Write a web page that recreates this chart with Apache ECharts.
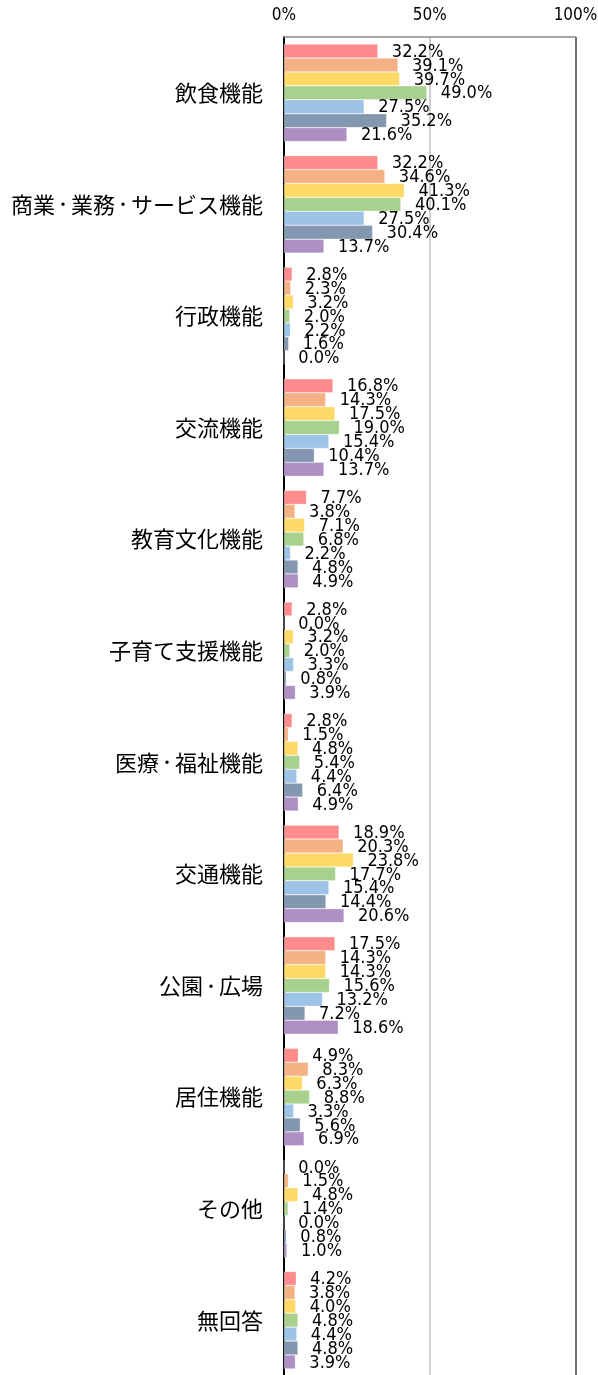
<!DOCTYPE html>
<html>
<head>
<meta charset="utf-8">
<script src="https://cdn.jsdelivr.net/npm/echarts@6/dist/echarts.min.js"></script>
<style>
html,body{margin:0;padding:0;background:#fff;}
#chart{width:598px;height:1375px;}
</style>
</head>
<body>
<div id="chart"></div>
<script>
const categories = ['飲食機能','商業・業務・サービス機能','行政機能','交流機能','教育文化機能','子育て支援機能','医療・福祉機能','交通機能','公園・広場','居住機能','その他','無回答'];
const seriesNames = ['系列1','系列2','系列3','系列4','系列5','系列6','系列7'];
const colors = ['#FF8C8C','#F4B183','#FFD966','#A9D18E','#9DC3E6','#8497B0','#AE8FC4'];
const s1 = [32.2, 32.2, 2.8, 16.8, 7.7, 2.8, 2.8, 18.9, 17.5, 4.9, 0.0, 4.2];
const s2 = [39.1, 34.6, 2.3, 14.3, 3.8, 0.0, 1.5, 20.3, 14.3, 8.3, 1.5, 3.8];
const s3 = [39.7, 41.3, 3.2, 17.5, 7.1, 3.2, 4.8, 23.8, 14.3, 6.3, 4.8, 4.0];
const s4 = [49.0, 40.1, 2.0, 19.0, 6.8, 2.0, 5.4, 17.7, 15.6, 8.8, 1.4, 4.8];
const s5 = [27.5, 27.5, 2.2, 15.4, 2.2, 3.3, 4.4, 15.4, 13.2, 3.3, 0.0, 4.4];
const s6 = [35.2, 30.4, 1.6, 10.4, 4.8, 0.8, 6.4, 14.4, 7.2, 5.6, 0.8, 4.8];
const s7 = [21.6, 13.7, 0.0, 13.7, 4.9, 3.9, 4.9, 20.6, 18.6, 6.9, 1.0, 3.9];
const allSeries = [s1, s2, s3, s4, s5, s6, s7];
const xTicks = ['0%','50%','100%'];

const chart = echarts.init(document.getElementById('chart'), null, {renderer:'canvas'});
const fontCJK = '"Noto Sans CJK JP", "Noto Sans", sans-serif';
const fontNum = '"DejaVu Sans Condensed", "Liberation Sans", sans-serif';
chart.setOption({
  animation:false,
  backgroundColor:'#fff',
  grid:{left:284, top:37, width:291.5, height:1339, containLabel:false, outerBoundsMode:'none'},
  xAxis:{
    type:'value', position:'top', min:0, max:100, interval:50,
    axisLine:{show:true, lineStyle:{color:'#898989', width:1.5}},
    axisTick:{show:false},
    axisLabel:{color:'#000', fontSize:17, fontFamily:fontNum, margin:13,
      formatter:function(v){ return xTicks[Math.round(v/50)]; }},
    splitLine:{show:true, lineStyle:{color:['#000','#BFBFBF','#404040'], width:1.5}}
  },
  yAxis:{
    type:'category', inverse:true, data:categories,
    axisLine:{show:true, lineStyle:{color:'#000', width:2}},
    axisTick:{show:false},
    axisLabel:{color:'#000', fontSize:22, fontFamily:fontCJK, margin:21,
      formatter:function(v){ return v.replace(/・/g, '{d|・}'); },
      rich:{d:{fontSize:16, fontFamily:fontCJK, color:'#000'}}}
  },
  series: allSeries.map(function(d,i){
    return {
      name:seriesNames[i], type:'bar', data:d,
      barGap:'0%', barCategoryGap:'12.7%',
      itemStyle:{color:colors[i], borderColor:'rgba(255,255,255,0.6)', borderWidth:0.5},
      label:{show:true, position:'right', distance:14, color:'#000', fontSize:18,
        fontFamily:fontNum, offset:[0,1],
        formatter:function(p){ return p.value.toFixed(1)+'%'; }}
    };
  })
});
</script>
</body>
</html>
